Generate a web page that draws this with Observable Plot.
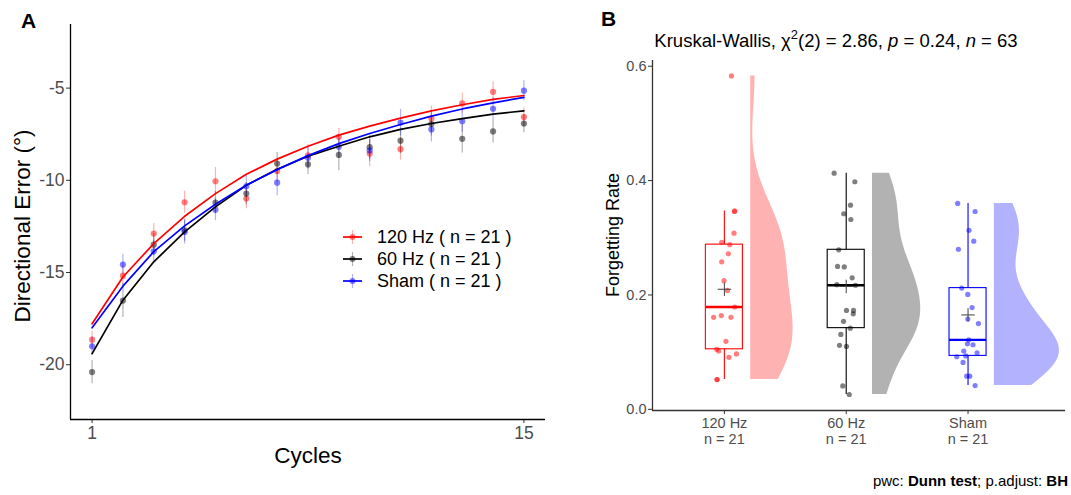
<!DOCTYPE html>
<html>
<head>
<meta charset="utf-8">
<script src="https://cdn.jsdelivr.net/npm/d3@7"></script>
<script src="https://cdn.jsdelivr.net/npm/@observablehq/plot@0.6"></script>
<style>
  html, body { margin: 0; padding: 0; background: #fff; }
  #wrap { position: relative; width: 1071px; height: 495px; background: #fff; font-family: "Liberation Sans", Arial, sans-serif; color: #000; overflow: hidden; }
  .abs { position: absolute; white-space: nowrap; line-height: 1; }
  .rot { transform: translate(-50%, -50%) rotate(-90deg); }
</style>
</head>
<body>
<div id="wrap">
  <div id="panelA" class="abs" style="left:0;top:0"></div>
  <div id="panelB" class="abs" style="left:540px;top:0"></div>
</div>
<script>
// ---------- Panel A data ----------
const groups = ["120 Hz", "60 Hz", "Sham"];
const groupColors = ["#FF0000", "#000000", "#0000FF"];
const groupN = [21, 21, 21];
const cycles = [1,2,3,4,5,6,7,8,9,10,11,12,13,14,15];

const err120  = [-18.64,-15.17,-12.89,-11.19,-10.05,-10.99,-9.49,-8.64,-7.64,-8.55,-8.31,-6.65,-5.83,-5.20,-6.57];
const err60   = [-20.40,-16.52,-13.49,-12.71,-11.21,-10.72,-9.09,-9.14,-8.62,-8.20,-7.85,-6.95,-7.75,-7.35,-6.92];
const errSham = [-19.00,-14.57,-13.85,-12.80,-11.59,-10.32,-10.13,-8.78,-8.18,-8.38,-6.87,-7.24,-6.79,-6.12,-5.14];

const se120  = [0.45,0.55,0.55,0.60,0.75,0.55,0.60,0.60,0.45,0.72,0.60,0.68,0.55,0.55,0.50];
const se60   = [0.63,0.92,0.60,0.60,0.60,0.60,0.60,0.55,0.86,0.65,0.70,0.65,0.77,0.63,0.50];
const seSham = [0.50,0.56,0.60,0.65,0.60,0.60,0.70,0.60,0.60,0.60,0.72,0.68,0.60,0.60,0.55];

const fit120  = [-17.78,-15.24,-13.43,-11.95,-10.72,-9.67,-8.85,-8.15,-7.55,-7.06,-6.63,-6.23,-5.90,-5.61,-5.40];
const fit60   = [-19.40,-16.50,-14.42,-12.80,-11.44,-10.27,-9.40,-8.69,-8.15,-7.64,-7.24,-6.92,-6.65,-6.41,-6.23];
const fitSham = [-18.00,-15.74,-13.87,-12.47,-11.30,-10.27,-9.42,-8.66,-8.01,-7.46,-6.97,-6.52,-6.13,-5.80,-5.50];

const yTicksA = [-5, -10, -15, -20];
const xTicksA = [1, 15];

// ---------- Panel B data ----------
const rate120  = [0.583,0.347,0.346,0.308,0.292,0.288,0.272,0.258,0.225,0.208,0.179,0.161,0.164,0.161,0.119,0.105,0.102,0.097,0.091,0.052,0.052];
const jit120   = [0.058,0.085,0.082,0.079,-0.022,0.044,0.033,-0.022,-0.003,0.025,0.085,-0.088,-0.025,0.054,0.013,-0.063,-0.047,0.099,0.038,-0.061,-0.059];
const rate60   = [0.413,0.398,0.357,0.342,0.332,0.279,0.250,0.249,0.230,0.218,0.217,0.173,0.173,0.167,0.154,0.142,0.131,0.112,0.110,0.041,0.026];
const jit60    = [-0.099,0.071,0.035,-0.020,0.038,-0.061,-0.071,-0.016,0.049,-0.077,0.076,0.002,0.060,0.058,-0.022,0.033,-0.044,-0.055,0.002,-0.028,0.025];
const rateSham = [0.360,0.346,0.313,0.294,0.280,0.212,0.201,0.178,0.158,0.150,0.1215,0.1145,0.113,0.102,0.099,0.092,0.0935,0.082,0.058,0.058,0.0415];
const jitSham  = [-0.085,0.058,0.008,0.047,-0.079,-0.052,-0.002,0.033,-0.002,0.085,0.006,-0.005,0.041,-0.035,0.074,-0.093,-0.019,-0.041,-0.011,0.014,0.058];

const yTicksB = [0, 0.2, 0.4, 0.6];

const FONT = "'Liberation Sans', Arial, sans-serif";

// ---------- Build panel A ----------
const errs = [err120, err60, errSham], ses = [se120, se60, seSham], fitsArr = [fit120, fit60, fitSham];
const rowsA = [], fitsA = [];
groups.forEach((g, i) => cycles.forEach((c, j) => {
  rowsA.push({g, cycle: c, m: errs[i][j], se: ses[i][j]});
  fitsA.push({g, cycle: c, v: fitsArr[i][j]});
}));

const xDomA = [0.3, 15.7], yDomA = [-22.97, -1.55];
const plotA = Plot.plot({
  width: 560, height: 470,
  marginLeft: 70, marginRight: 15, marginTop: 24, marginBottom: 51,
  x: {domain: xDomA},
  y: {domain: yDomA},
  color: {domain: groups, range: groupColors},
  style: {fontFamily: FONT, background: "transparent", overflow: "visible"},
  marks: [
    Plot.ruleX(rowsA, {x: "cycle", y1: d => d.m - d.se, y2: d => d.m + d.se, stroke: "g", strokeOpacity: 0.3, strokeWidth: 1.2}),
    Plot.dot(rowsA, {x: "cycle", y: "m", fill: "g", fillOpacity: 0.5, r: 3.1}),
    Plot.line(fitsA, {x: "cycle", y: "v", stroke: "g", z: "g", strokeWidth: 1.7}),
    Plot.axisX({ticks: xTicksA, tickSize: 4, tickPadding: 3, fontSize: 17.5, fill: "#4d4d4d", stroke: "#333", label: null, tickFormat: d => String(d)}),
    Plot.axisY({ticks: yTicksA, tickSize: 4, tickPadding: 2, fontSize: 17.5, fill: "#4d4d4d", stroke: "#333", label: null, tickFormat: d => String(d)}),
    Plot.ruleX([xDomA[0]], {stroke: "#000", strokeWidth: 1.3}),
    Plot.ruleY([yDomA[0]], {stroke: "#000", strokeWidth: 1.3})
  ]
});
document.getElementById("panelA").appendChild(plotA);

// ---------- Build panel B ----------
const rates = [rate120, rate60, rateSham], jits = [jit120, jit60, jitSham];
const pointsB = [], statsB = [], violins = [];
function kde(values, n) {
  const s = values.slice().sort(d3.ascending);
  const sd = d3.deviation(s);
  const iqr = d3.quantile(s, 0.75) - d3.quantile(s, 0.25);
  const bw = 0.9 * Math.min(sd, iqr / 1.34) * Math.pow(s.length, -0.2);
  const lo = s[0], hi = s[s.length - 1], out = [];
  for (let i = 0; i < n; i++) {
    const y = lo + (hi - lo) * i / (n - 1);
    let d = 0;
    for (const v of s) { const z = (y - v) / bw; d += Math.exp(-0.5 * z * z); }
    out.push({y, d: d / (s.length * bw * Math.sqrt(2 * Math.PI))});
  }
  return out;
}
groups.forEach((g, i) => {
  const pos = i + 1;
  rates[i].forEach((v, j) => pointsB.push({g, x: pos + jits[i][j], y: v}));
  const s = rates[i].slice().sort(d3.ascending);
  const q1 = d3.quantile(s, 0.25), med = d3.quantile(s, 0.5), q3 = d3.quantile(s, 0.75);
  const iqr = q3 - q1;
  const lo = d3.min(s.filter(v => v >= q1 - 1.5 * iqr));
  const hi = d3.max(s.filter(v => v <= q3 + 1.5 * iqr));
  statsB.push({g, pos, q1, med, q3, lo, hi, mean: d3.mean(s)});
  violins.push({g, pos, dens: kde(rates[i], 200)});
});
const maxDens = d3.max(violins, v => d3.max(v.dens, d => d.d));
const violinMaxWidth = 0.534, violinOffset = 0.216, boxHalf = 0.152;
const violinRows = [];
violins.forEach(v => v.dens.forEach(d => violinRows.push({
  g: v.g, y: d.y, x1: v.pos + violinOffset, x2: v.pos + violinOffset + d.d / maxDens * violinMaxWidth
})));
const xLabelsB = groups.map((g, i) => `${g}\nn = ${groupN[i]}`);

const xDomB = [0.41, 3.8], yDomB = [-0.002, 0.61];
const plotB = Plot.plot({
  width: 531, height: 460,
  marginLeft: 112, marginRight: 6, marginTop: 60, marginBottom: 50,
  x: {domain: xDomB},
  y: {domain: yDomB},
  color: {domain: groups, range: groupColors},
  style: {fontFamily: FONT, background: "transparent", overflow: "visible"},
  marks: [
    Plot.areaX(violinRows, {y: "y", x1: "x1", x2: "x2", fill: "g", z: "g", fillOpacity: 0.3}),
    Plot.ruleX(statsB, {x: "pos", y1: "lo", y2: "hi", stroke: "g", strokeWidth: 1.1}),
    Plot.rect(statsB, {x1: d => d.pos - boxHalf, x2: d => d.pos + boxHalf, y1: "q1", y2: "q3", fill: "#fff", stroke: "g", strokeWidth: 1.1}),
    Plot.ruleY(statsB, {y: "med", x1: d => d.pos - boxHalf, x2: d => d.pos + boxHalf, stroke: "g", strokeWidth: 2.3}),
    Plot.dot(pointsB, {x: "x", y: "y", fill: "g", fillOpacity: 0.5, r: 2.6}),
    Plot.dot(statsB, {x: "pos", y: "mean", symbol: "plus", r: 4.4, stroke: "#404040", strokeWidth: 1}),
    Plot.axisX({ticks: [1, 2, 3], tickFormat: d => xLabelsB[d - 1], tickSize: 4, tickPadding: 3, fontSize: 14.5, lineHeight: 1.05, fill: "#4d4d4d", stroke: "#333", label: null}),
    Plot.axisY({ticks: yTicksB, tickFormat: d3.format(".1f"), tickSize: 4, tickPadding: 2, fontSize: 14.5, fill: "#4d4d4d", stroke: "#333", label: null}),
    Plot.ruleX([xDomB[0]], {stroke: "#333", strokeWidth: 1.3}),
    Plot.ruleY([yDomB[0]], {stroke: "#333", strokeWidth: 1.3})
  ]
});
document.getElementById("panelB").appendChild(plotB);

// ---------- Text & legend ----------
const wrap = document.getElementById("wrap");
function addText(html, style, cls) {
  const d = document.createElement("div");
  d.className = "abs" + (cls ? " " + cls : "");
  d.innerHTML = html;
  d.setAttribute("style", style);
  wrap.appendChild(d);
  return d;
}
addText("A", "left:21px;top:10px;font-size:21px;font-weight:bold;");
addText("B", "left:601px;top:8px;font-size:21px;font-weight:bold;");
addText("Directional Error (°)", "left:23px;top:226px;font-size:22.5px;", "rot");
addText("Cycles", "left:308px;top:456px;font-size:22.5px;transform:translate(-50%,-50%);");
addText("Forgetting Rate", "left:613px;top:235px;font-size:18px;", "rot");
addText("Kruskal-Wallis, χ<sup style='font-size:0.7em;vertical-align:0.6em;line-height:0'>2</sup>(2) = 2.86, <i>p</i> = 0.24, <i>n</i> = 63",
  "left:836px;top:41px;font-size:18.5px;transform:translate(-50%,-50%);");
addText("pwc: <b>Dunn test</b>; p.adjust: <b>BH</b>", "right:3px;top:473px;font-size:15px;");

// legend
const legY = [237, 259, 281];
groups.forEach((g, i) => {
  const row = document.createElement("div");
  row.className = "abs";
  row.setAttribute("style", `left:341px;top:${legY[i] - 10}px;height:20px;display:flex;align-items:center;font-size:18px;`);
  row.innerHTML = `<svg width="24" height="20" style="display:block">
      <line x1="2" x2="21" y1="10" y2="10" stroke="${groupColors[i]}" stroke-width="1.7"/>
      <line x1="11.5" x2="11.5" y1="3" y2="17" stroke="${groupColors[i]}" stroke-opacity="0.3" stroke-width="1.2"/>
      <circle cx="11.5" cy="10" r="3" fill="${groupColors[i]}" fill-opacity="0.5"/>
    </svg><span style="margin-left:12px">${g} ( n = ${groupN[i]} )</span>`;
  wrap.appendChild(row);
});
</script>
</body>
</html>
